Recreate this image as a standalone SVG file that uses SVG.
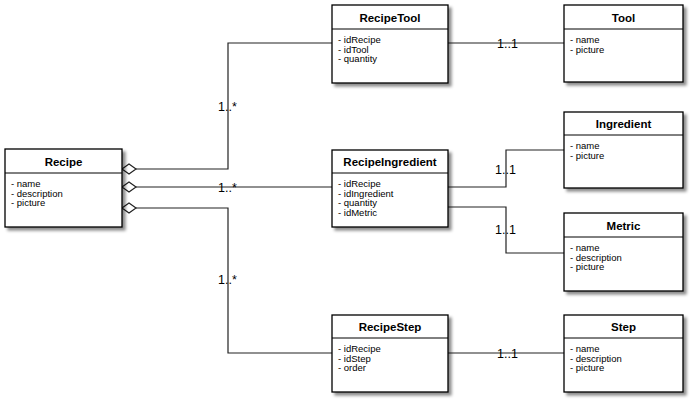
<svg xmlns="http://www.w3.org/2000/svg" width="694" height="404" viewBox="0 0 694 404">
<defs>
<filter id="sh" x="-10%" y="-10%" width="130%" height="130%">
<feDropShadow dx="3" dy="3" stdDeviation="1.6" flood-color="#000" flood-opacity="0.45"/>
</filter>
</defs>
<style>
.box{fill:#fff;stroke:#000;stroke-width:1.3;filter:url(#sh)}
.div{stroke:#000;stroke-width:1}
.t{font-family:"Liberation Sans",Arial,sans-serif;font-size:11.5px;font-weight:bold;text-anchor:middle;fill:#000}
.a{font-family:"Liberation Sans",Arial,sans-serif;font-size:9.5px;fill:#000}
.c{fill:none;stroke:#222;stroke-width:1.2}
.d{fill:#fff;stroke:#222;stroke-width:1.2}
.l{font-family:"Liberation Sans",Arial,sans-serif;font-size:12.5px;fill:#000}
</style>
<rect width="694" height="404" fill="#fff"/>
<g id="connectors">
<path class="c" d="M136,169 H228 V43 H332"/>
<path class="c" d="M136,187 H332"/>
<path class="c" d="M136,208 H228 V353 H332"/>
<path class="c" d="M448,43 H564"/>
<path class="c" d="M448,187 H506 V150 H564"/>
<path class="c" d="M448,207 H506 V253 H564"/>
<path class="c" d="M448,353 H564"/>
<polygon class="d" points="122,169 129,164 136,169 129,174"/>
<polygon class="d" points="122,187 129,182 136,187 129,192"/>
<polygon class="d" points="122,208 129,203 136,208 129,213"/>
<text class="l" x="218" y="111">1..*</text>
<text class="l" x="218" y="192">1..*</text>
<text class="l" x="218" y="284">1..*</text>
<text class="l" x="497" y="48">1..1</text>
<text class="l" x="495" y="174">1..1</text>
<text class="l" x="495" y="234">1..1</text>
<text class="l" x="497" y="358">1..1</text>
</g>
<g id="Recipe">
<rect class="box" x="5" y="149" width="117" height="78"/>
<line class="div" x1="5" y1="173" x2="122" y2="173"/>
<text class="t" x="63.5" y="166">Recipe</text>
<text class="a" x="11" y="187">- name</text>
<text class="a" x="11" y="196.7">- description</text>
<text class="a" x="11" y="206.4">- picture</text>
</g>
<g id="RecipeTool">
<rect class="box" x="332" y="5" width="116" height="78"/>
<line class="div" x1="332" y1="29" x2="448" y2="29"/>
<text class="t" x="390" y="22">RecipeTool</text>
<text class="a" x="338" y="43">- idRecipe</text>
<text class="a" x="338" y="52.7">- idTool</text>
<text class="a" x="338" y="62.4">- quantity</text>
</g>
<g id="Tool">
<rect class="box" x="564" y="5" width="119" height="77"/>
<line class="div" x1="564" y1="29" x2="683" y2="29"/>
<text class="t" x="623.5" y="22">Tool</text>
<text class="a" x="570" y="43">- name</text>
<text class="a" x="570" y="52.7">- picture</text>
</g>
<g id="RecipeIngredient">
<rect class="box" x="332" y="150" width="116" height="77"/>
<line class="div" x1="332" y1="173" x2="448" y2="173"/>
<text class="t" x="390" y="166">RecipeIngredient</text>
<text class="a" x="338" y="187">- idRecipe</text>
<text class="a" x="338" y="196.7">- idIngredient</text>
<text class="a" x="338" y="206.4">- quantity</text>
<text class="a" x="338" y="216.1">- idMetric</text>
</g>
<g id="Ingredient">
<rect class="box" x="564" y="112" width="119" height="76"/>
<line class="div" x1="564" y1="135" x2="683" y2="135"/>
<text class="t" x="623.5" y="128">Ingredient</text>
<text class="a" x="570" y="149">- name</text>
<text class="a" x="570" y="158.7">- picture</text>
</g>
<g id="Metric">
<rect class="box" x="564" y="213" width="119" height="78"/>
<line class="div" x1="564" y1="237" x2="683" y2="237"/>
<text class="t" x="623.5" y="230">Metric</text>
<text class="a" x="570" y="251">- name</text>
<text class="a" x="570" y="260.7">- description</text>
<text class="a" x="570" y="270.4">- picture</text>
</g>
<g id="RecipeStep">
<rect class="box" x="332" y="315" width="116" height="77"/>
<line class="div" x1="332" y1="338" x2="448" y2="338"/>
<text class="t" x="390" y="331">RecipeStep</text>
<text class="a" x="338" y="352">- idRecipe</text>
<text class="a" x="338" y="361.7">- idStep</text>
<text class="a" x="338" y="371.4">- order</text>
</g>
<g id="Step">
<rect class="box" x="564" y="315" width="119" height="77"/>
<line class="div" x1="564" y1="338" x2="683" y2="338"/>
<text class="t" x="623.5" y="331">Step</text>
<text class="a" x="570" y="352">- name</text>
<text class="a" x="570" y="361.7">- description</text>
<text class="a" x="570" y="371.4">- picture</text>
</g>
</svg>
